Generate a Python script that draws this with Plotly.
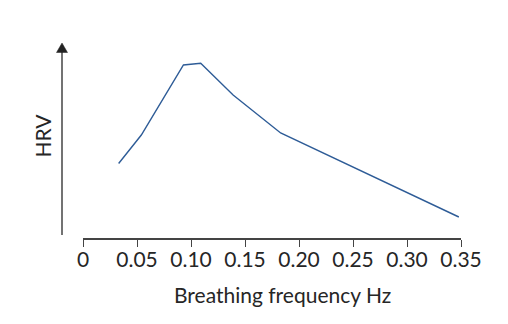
import plotly.graph_objects as go

# Data (HRV in arbitrary units)
freq = [0.033, 0.054, 0.093, 0.109, 0.139, 0.183, 0.348]
hrv = [74.5, 103, 173, 174.7, 143, 105, 21]
tick_vals = [0, 0.05, 0.10, 0.15, 0.20, 0.25, 0.30, 0.35]
tick_text = ["0", "0.05", "0.10", "0.15", "0.20", "0.25", "0.30", "0.35"]

W, H = 508, 324
L, R, T, B = 83, 47, 44, 86
axis_col = "#444444"
text_col = "#262626"
font = "Lato, 'Open Sans', sans-serif"

fig = go.Figure()
fig.add_trace(go.Scatter(x=freq, y=hrv, mode="lines",
                         line=dict(color="#2e5c97", width=1.4),
                         hoverinfo="skip", showlegend=False))

fig.update_layout(
    width=W, height=H,
    margin=dict(l=L, r=R, t=T, b=B),
    paper_bgcolor="white", plot_bgcolor="white",
    font=dict(family=font, color=text_col),
    xaxis=dict(range=[0, 0.35], tickvals=tick_vals, ticktext=tick_text,
               showgrid=False, zeroline=False, showline=True,
               linecolor=axis_col, linewidth=1.5,
               ticks="outside", ticklen=7, tickwidth=1.3, tickcolor=axis_col,
               ticklabelstandoff=-5,
               tickfont=dict(size=21, family=font, color=text_col),
               fixedrange=True),
    yaxis=dict(range=[0, 194], visible=False, fixedrange=True),
)

# y axis: vertical line with arrow head, offset left of the x axis
fig.add_shape(type="line", xref="paper", yref="paper",
              x0=-21/378, x1=-21/378, y0=(238-235)/194, y1=(238-50)/194,
              line=dict(color=axis_col, width=1.5))
fig.add_shape(type="path", xref="paper", yref="paper",
              path=f"M {-26.5/378} {(238-52.5)/194} L {-15.5/378} {(238-52.5)/194} L {-21/378} {(238-43)/194} Z",
              fillcolor="#222222", line=dict(color="#222222", width=0.5))

fig.add_annotation(text="Breathing frequency Hz", xref="paper", yref="paper",
                   x=(282.5-L)/378, y=-(294-238)/194, showarrow=False,
                   xanchor="center", yanchor="middle",
                   font=dict(size=21, family=font, color=text_col))
fig.add_annotation(text="HRV", xref="paper", yref="paper",
                   x=-(L-41.5)/378, y=(238-136)/194, showarrow=False,
                   textangle=-90, xanchor="center", yanchor="middle",
                   font=dict(size=21, family=font, color=text_col))

fig.write_html("out.html", config={"displayModeBar": False})
